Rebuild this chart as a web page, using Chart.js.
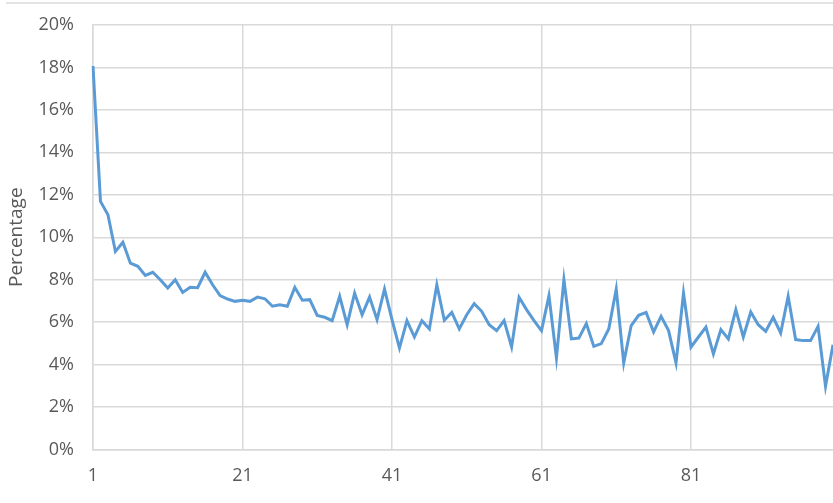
<!DOCTYPE html>
<html>
<head>
<meta charset="utf-8">
<script src="https://cdn.jsdelivr.net/npm/chart.js@4/dist/chart.umd.min.js"></script>
<style>
  html, body { margin: 0; padding: 0; background: #fff; }
  #wrap { position: relative; width: 833px; height: 503px; }
  #frame { position: absolute; left: 6px; right: 0; top: 2px; height: 2px; background: #e3e3e3; }
</style>
</head>
<body>
<div id="wrap">
  <div id="frame"></div>
  <canvas id="chart" width="833" height="503"></canvas>
</div>
<script>
// percentage per position (1..100)
const percentValues = [
  18.07, 11.69, 11.06, 9.33, 9.76, 8.78, 8.63, 8.20, 8.35, 8.00,
  7.61, 8.00, 7.40, 7.64, 7.62, 8.35, 7.76, 7.25, 7.09, 6.98,
  7.03, 6.98, 7.18, 7.10, 6.75, 6.82, 6.75, 7.64, 7.03, 7.06,
  6.32, 6.23, 6.07, 7.22, 5.88, 7.37, 6.35, 7.18, 6.12, 7.56,
  6.12, 4.78, 6.07, 5.30, 6.07, 5.68, 7.76, 6.09, 6.46, 5.68,
  6.35, 6.87, 6.51, 5.88, 5.60, 6.07, 4.83, 7.17, 6.59, 6.07,
  5.60, 7.25, 4.31, 8.00, 5.21, 5.25, 5.93, 4.86, 4.99, 5.68,
  7.56, 4.08, 5.84, 6.32, 6.46, 5.54, 6.27, 5.60, 4.08, 7.37,
  4.82, 5.30, 5.77, 4.50, 5.65, 5.21, 6.59, 5.30, 6.48, 5.88,
  5.57, 6.23, 5.49, 7.22, 5.18, 5.13, 5.13, 5.80, 2.98, 4.94
];
const positions = percentValues.map((v, i) => String(i + 1));
const shownTicks = ['1', '21', '41', '61', '81'];
const yTicks = [0, 2, 4, 6, 8, 10, 12, 14, 16, 18, 20];

const textColor = '#595959';
const gridColor = '#d9d9d9';
const fontFamily = '"Open Sans", "Liberation Sans", sans-serif';

// Build the chart
function renderChart() {
  const ctx = document.getElementById('chart').getContext('2d');

  new Chart(ctx, {
    type: 'line',
    data: {
      labels: positions,
      datasets: [{
        data: percentValues,
        borderColor: '#5b9bd5',
        borderWidth: 3,
        pointRadius: 0,
        tension: 0,
        fill: false,
      }],
    },
    options: {
      responsive: false,
      animation: false,
      layout: { padding: { top: 25, right: 0, left: 0, bottom: 0 } },
      plugins: {
        legend: { display: false },
        tooltip: { enabled: false },
      },
      scales: {
        x: {
          type: 'category',
          offset: false,
          grid: { color: gridColor, lineWidth: 1.5, drawTicks: false },
          border: { color: gridColor, width: 1.5 },
          ticks: {
            autoSkip: false,
            maxRotation: 0,
            padding: 16,
            color: textColor,
            font: { family: fontFamily, size: 18 },
            callback: function (val) {
              const lab = this.getLabelForValue(val);
              return shownTicks.includes(lab) ? lab : null;
            },
          },
          afterFit: scale => {
            scale.height = 53.5;
            scale.paddingLeft = 0;
            scale.paddingRight = 0;
          },
        },
        y: {
          min: 0,
          max: 20,
          afterBuildTicks: scale => { scale.ticks = yTicks.map(v => ({ value: v })); },
          grid: { color: gridColor, lineWidth: 1.5, drawTicks: false },
          border: { color: gridColor, width: 1.5 },
          ticks: {
            padding: 19,
            color: textColor,
            font: { family: fontFamily, size: 18 },
            callback: v => v + '%',
          },
          title: {
            display: true,
            text: 'Percentage',
            color: textColor,
            font: { family: fontFamily, size: 19 },
            padding: { top: 5, bottom: 0 },
          },
          afterFit: scale => {
            scale.width = 93;
            scale.paddingTop = 0;
            scale.paddingBottom = 0;
          },
        },
      },
    },
  });
}

document.addEventListener('DOMContentLoaded', () => {
  renderChart();
});
</script>
</body>
</html>
